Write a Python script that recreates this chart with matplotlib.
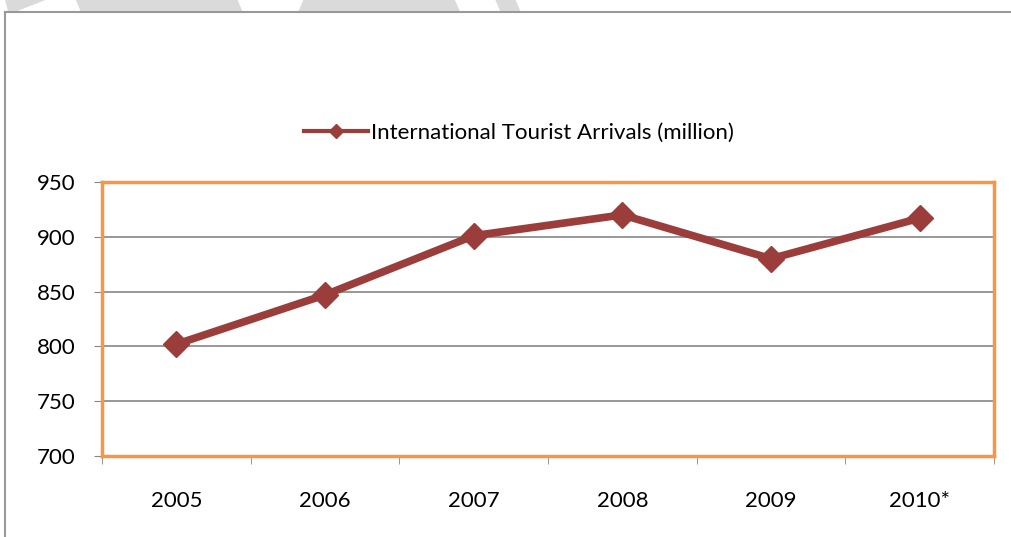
import matplotlib.pyplot as plt
from matplotlib.lines import Line2D
from matplotlib.patches import Polygon

years = ['2005', '2006', '2007', '2008', '2009', '2010*']
arrivals = [802, 847, 901, 920, 880, 917]
y_ticks = [700, 750, 800, 850, 900, 950]

plt.rcParams['font.family'] = ['Lato', 'DejaVu Sans']

fig = plt.figure(figsize=(10.11, 5.37), dpi=100)
fig.patch.set_facecolor('white')

# faint watermark shapes at the top edge
for pts in [[(0.005, 1), (0.045, 1), (0.015, 0.978), (0.008, 0.978)],
            [(0.075, 1), (0.235, 1), (0.24, 0.978), (0.08, 0.978)],
            [(0.3, 1), (0.45, 1), (0.455, 0.978), (0.295, 0.978)],
            [(0.49, 1), (0.51, 1), (0.515, 0.978), (0.495, 0.978)]]:
    fig.patches.append(Polygon(pts, closed=True, transform=fig.transFigure,
                               facecolor='#dadada', edgecolor='none'))

# outer chart frame
fig.lines.append(Line2D([0.005, 0.005], [0, 0.978], transform=fig.transFigure,
                        color='#999999', lw=1.5))
fig.lines.append(Line2D([0.005, 1], [0.978, 0.978], transform=fig.transFigure,
                        color='#999999', lw=1.5))

ax = fig.add_axes([0.1009, 0.1508, 0.8823, 0.5103])
x = list(range(len(years)))
ax.plot(x, arrivals, color='#9b3d3a', lw=5.5, marker='D', markersize=13,
        solid_joinstyle='round', label='International Tourist Arrivals (million)',
        zorder=3)

ax.set_xlim(-0.5, len(years) - 0.5)
ax.set_ylim(700, 950)
ax.set_yticks(y_ticks)
ax.set_yticklabels([str(v) for v in y_ticks], fontsize=16)
ax.set_xticks(x)
ax.set_xticklabels(years, fontsize=16)
ax.set_xticks([i - 0.5 for i in range(len(years) + 1)], minor=True)
ax.tick_params(axis='x', which='major', length=0, pad=25)
ax.tick_params(axis='x', which='minor', length=6, color='#868686', direction='out')
ax.tick_params(axis='y', length=6, color='#868686', pad=13)
ax.yaxis.grid(True, color='#868686', lw=1.2)
ax.set_axisbelow(True)

for s in ax.spines.values():
    s.set_color('#f79646')
    s.set_linewidth(2.5)

leg = ax.legend(loc='lower center', bbox_to_anchor=(0.4675, 1.07), frameon=False,
                fontsize=16, handlelength=2.9, handletextpad=0.15, markerscale=0.55)
for h in leg.get_lines():
    h.set_linewidth(3)

fig.savefig('out.png', dpi=100)
